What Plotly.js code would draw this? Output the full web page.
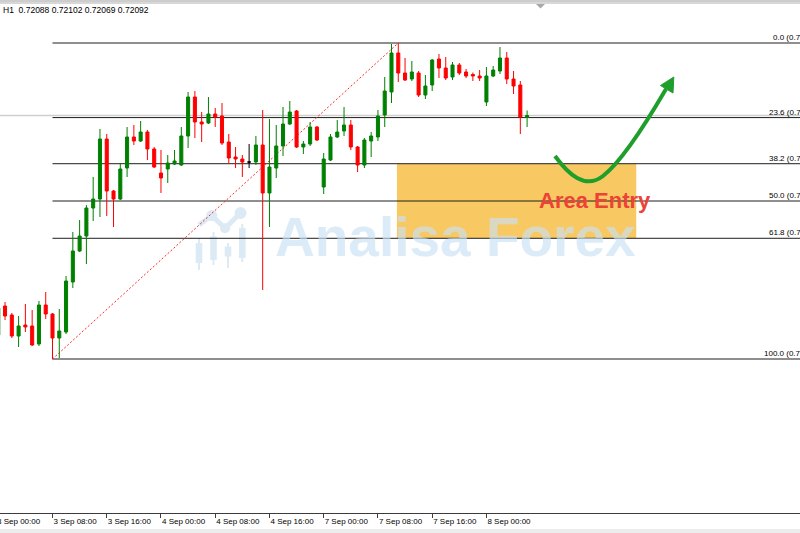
<!DOCTYPE html>
<html><head><meta charset="utf-8">
<script src="https://cdn.plot.ly/plotly-3.0.1.min.js"></script>
<style>html,body{margin:0;padding:0;background:#fff;}#chart{width:800px;height:533px;}</style>
</head><body><div id="chart"></div>
<script>
// ---- DATA (H1 candles) ----
const times = [
"3 Sep 00:00","3 Sep 01:00","3 Sep 02:00","3 Sep 03:00","3 Sep 04:00","3 Sep 05:00","3 Sep 06:00","3 Sep 07:00",
"3 Sep 08:00","3 Sep 09:00","3 Sep 10:00","3 Sep 11:00","3 Sep 12:00","3 Sep 13:00","3 Sep 14:00","3 Sep 15:00",
"3 Sep 16:00","3 Sep 17:00","3 Sep 18:00","3 Sep 19:00","3 Sep 20:00","3 Sep 21:00","3 Sep 22:00","3 Sep 23:00",
"4 Sep 00:00","4 Sep 01:00","4 Sep 02:00","4 Sep 03:00","4 Sep 04:00","4 Sep 05:00","4 Sep 06:00","4 Sep 07:00",
"4 Sep 08:00","4 Sep 09:00","4 Sep 10:00","4 Sep 11:00","4 Sep 12:00","4 Sep 13:00","4 Sep 14:00","4 Sep 15:00",
"4 Sep 16:00","4 Sep 17:00","4 Sep 18:00","4 Sep 19:00","4 Sep 20:00","4 Sep 21:00","4 Sep 22:00","4 Sep 23:00",
"7 Sep 00:00","7 Sep 01:00","7 Sep 02:00","7 Sep 03:00","7 Sep 04:00","7 Sep 05:00","7 Sep 06:00","7 Sep 07:00",
"7 Sep 08:00","7 Sep 09:00","7 Sep 10:00","7 Sep 11:00","7 Sep 12:00","7 Sep 13:00","7 Sep 14:00","7 Sep 15:00",
"7 Sep 16:00","7 Sep 17:00","7 Sep 18:00","7 Sep 19:00","7 Sep 20:00","7 Sep 21:00","7 Sep 22:00","7 Sep 23:00",
"8 Sep 00:00","8 Sep 01:00","8 Sep 02:00","8 Sep 03:00","8 Sep 04:00","8 Sep 05:00","8 Sep 06:00"];

const opens = [
0.71653,0.71711,0.71693,0.71651,0.71673,0.71671,0.71635,0.71713,
0.71695,0.71647,0.71659,0.71759,0.71821,0.71851,0.71907,0.71925,
0.72045,0.71941,0.71925,0.71987,0.72049,0.72041,0.72059,0.72025,
0.71977,0.71985,0.71995,0.71993,0.72051,0.72129,0.72079,0.72077,
0.72095,0.72091,0.72039,0.72009,0.72005,0.71999,0.71999,0.72033,
0.71937,0.71987,0.72031,0.72075,0.72101,0.72029,0.72035,0.72069,
0.71949,0.72003,0.72049,0.72061,0.72073,0.72029,0.71993,0.72041,
0.72049,0.72093,0.72139,0.72217,0.72177,0.72165,0.72177,0.72133,
0.72153,0.72205,0.72187,0.72169,0.72193,0.72179,0.72174,0.72171,
0.72119,0.72171,0.72181,0.72207,0.72165,0.72153,0.72088];

const highs = [
0.71723,0.71719,0.71697,0.71691,0.71715,0.71703,0.71721,0.71739,
0.71697,0.71705,0.71771,0.71859,0.71883,0.71913,0.71969,0.72065,
0.72055,0.71943,0.71997,0.72069,0.72073,0.72081,0.72063,0.72029,
0.72023,0.72013,0.72023,0.72069,0.72139,0.72141,0.72099,0.72129,
0.72107,0.72117,0.72055,0.72029,0.72013,0.72035,0.72051,0.72103,
0.72085,0.72073,0.72109,0.72121,0.72103,0.72041,0.72079,0.72071,
0.72017,0.72055,0.72083,0.72109,0.72083,0.72031,0.72047,0.72059,
0.72103,0.72169,0.72235,0.72237,0.72207,0.72201,0.72181,0.72173,
0.72205,0.72215,0.72209,0.72199,0.72197,0.72185,0.72178,0.72183,
0.72189,0.72191,0.72229,0.72219,0.72181,0.72161,0.72102];

const lows = [
0.71643,0.71683,0.71647,0.71629,0.71659,0.71631,0.71631,0.71685,
0.71605,0.71607,0.71655,0.71747,0.71819,0.71795,0.71881,0.71889,
0.71891,0.71869,0.71923,0.71969,0.72033,0.72039,0.72003,0.71987,
0.71937,0.71957,0.71993,0.71991,0.72027,0.72047,0.72039,0.72075,
0.72069,0.72033,0.71995,0.71987,0.71969,0.71987,0.71993,0.71743,
0.71869,0.71967,0.72011,0.72073,0.72027,0.72015,0.72031,0.72041,
0.71935,0.72001,0.72047,0.72051,0.72023,0.71979,0.71987,0.72009,
0.72041,0.72069,0.72117,0.72159,0.72161,0.72161,0.72129,0.72125,
0.72141,0.72167,0.72163,0.72163,0.72173,0.72167,0.72161,0.72161,
0.72111,0.72169,0.72175,0.72155,0.72135,0.72055,0.72069];

const closes = [
0.71707,0.71691,0.71651,0.71671,0.71669,0.71633,0.71713,0.71695,
0.71647,0.71661,0.71761,0.71821,0.71851,0.71907,0.71925,0.72045,
0.71941,0.71925,0.71985,0.72049,0.72041,0.72059,0.72025,0.71989,
0.71967,0.71997,0.72001,0.72051,0.72129,0.72079,0.72075,0.72095,
0.72089,0.72037,0.72007,0.72005,0.71999,0.71999,0.72033,0.71937,
0.71989,0.72031,0.72075,0.72099,0.72029,0.72035,0.72069,0.72043,
0.72005,0.72049,0.72059,0.72073,0.72029,0.71993,0.72043,0.72051,
0.72091,0.72141,0.72217,0.72177,0.72163,0.72179,0.72133,0.72151,
0.72203,0.72187,0.72167,0.72193,0.72177,0.72171,0.72171,0.72167,
0.72171,0.72183,0.72207,0.72165,0.72151,0.72089,0.72092];

const tickTimes = ["3 Sep 08:00","3 Sep 16:00","4 Sep 00:00","4 Sep 08:00","4 Sep 16:00",
                   "7 Sep 00:00","7 Sep 08:00","7 Sep 16:00","8 Sep 00:00"];
const fibLevels = [0.0, 23.6, 38.2, 50.0, 61.8, 100.0];
const periodLabel = "H1";
const zoneLabel = "Area Entry";
const watermark = "Analisa Forex";

// ---- LAYOUT HELPERS ----
const W = 800, H = 533, MT = 4, MB = 20, PH = H - MT - MB;
const px = x => x / W;
const py = y => 1 - (y - MT) / PH;
const FONT = "Liberation Sans, Arial, sans-serif";

const isDoji = opens.map((o, i) => o === closes[i]);
const pick = (arr, want) => arr.filter((_, i) => isDoji[i] === want);

const lo = Math.min(...lows), hi = Math.max(...highs);
const iLo = lows.indexOf(lo), iHi = highs.indexOf(hi);
const fibPrice = l => hi - (hi - lo) * l / 100;
const last = closes.length - 1;

const traces = [
  {type: 'candlestick', x: pick(times, false), open: pick(opens, false), high: pick(highs, false),
   low: pick(lows, false), close: pick(closes, false), whiskerwidth: 0, hoverinfo: 'skip', showlegend: false,
   increasing: {line: {color: '#008000', width: 1}, fillcolor: '#008000'},
   decreasing: {line: {color: '#ff0000', width: 1}, fillcolor: '#ff0000'}},
  {type: 'candlestick', x: pick(times, true), open: pick(opens, true), high: pick(highs, true),
   low: pick(lows, true), close: pick(closes, true), whiskerwidth: 0, hoverinfo: 'skip', showlegend: false,
   increasing: {line: {color: '#000000', width: 1}, fillcolor: '#000000'},
   decreasing: {line: {color: '#000000', width: 1}, fillcolor: '#000000'}}
];

const shapes = [];
// entry zone between 38.2 and 61.8
shapes.push({type: 'rect', xref: 'x', yref: 'y', x0: 58.8, x1: 94.1, y0: fibPrice(38.2), y1: fibPrice(61.8),
  fillcolor: '#F8C962', line: {width: 0}, layer: 'below'});
// bid line
shapes.push({type: 'line', xref: 'paper', yref: 'y', x0: 0, x1: 1, y0: closes[last], y1: closes[last],
  line: {color: '#cfcfcf', width: 1.5}, layer: 'below'});
// fibonacci levels
fibLevels.forEach(l => shapes.push({type: 'line', xref: 'x', yref: 'y', x0: iLo, x1: 300,
  y0: fibPrice(l), y1: fibPrice(l), line: {color: '#1e1e1e', width: 1}, layer: 'below'}));
// trend line of the fibo
shapes.push({type: 'line', xref: 'x', yref: 'y', x0: iLo, y0: lo, x1: iHi, y1: hi,
  line: {color: '#ff2a2a', width: 1, dash: '2px,2px'}, layer: 'below'});

// watermark icon
const wm = '#dceaf6';
[[211.7,215.5,5.5],[225,228.3,5],[240.5,213,6]].forEach(c => shapes.push({type: 'circle', xref: 'paper', yref: 'paper',
  x0: px(c[0]-c[2]), x1: px(c[0]+c[2]), y0: py(c[1]+c[2]), y1: py(c[1]-c[2]), fillcolor: wm, line: {width: 0}, layer: 'below'}));
[[199,225,211.7,215.5],[211.7,215.5,225,228.3],[225,228.3,240.5,213]].forEach(s => shapes.push({type: 'line', xref: 'paper', yref: 'paper',
  x0: px(s[0]), y0: py(s[1]), x1: px(s[2]), y1: py(s[3]), line: {color: wm, width: 5}, layer: 'below'}));
[[199,243,263,238,270],[213.5,236.5,260,232,265],[228,246.5,256.5,243,268],[242.3,228,258,224,262]].forEach(b => {
  shapes.push({type: 'line', xref: 'paper', yref: 'paper', x0: px(b[0]), x1: px(b[0]), y0: py(b[3]), y1: py(b[4]),
    line: {color: wm, width: 2}, layer: 'below'});
  shapes.push({type: 'rect', xref: 'paper', yref: 'paper', x0: px(b[0]-3.3), x1: px(b[0]+3.3), y0: py(b[2]), y1: py(b[1]),
    fillcolor: wm, line: {width: 0}, layer: 'below'});
});

// window frame bits
shapes.push({type: 'line', xref: 'paper', yref: 'paper', x0: 0, x1: 1, y0: py(1), y1: py(1), line: {color: '#9a9a9a', width: 1}});
shapes.push({type: 'line', xref: 'paper', yref: 'paper', x0: 0, x1: 1, y0: py(3), y1: py(3), line: {color: '#b0b0b0', width: 1}});
shapes.push({type: 'path', xref: 'paper', yref: 'paper',
  path: `M${px(536)},${py(4)} L${px(545)},${py(4)} L${px(540.5)},${py(8.5)} Z`, fillcolor: '#a8a8a8', line: {width: 0}});
shapes.push({type: 'rect', xref: 'paper', yref: 'paper', x0: 0, x1: 1, y0: py(533), y1: py(529),
  fillcolor: '#ececec', line: {width: 0}});

// green curved arrow
const P = (x, y) => `${px(x)},${py(y)}`;
shapes.push({type: 'path', xref: 'paper', yref: 'paper',
  path: `M${P(555,156)} C${P(568,174)} ${P(585,190)} ${P(603,176)} C${P(621,162)} ${P(645,125)} ${P(666,89)}`,
  line: {color: '#1f9e2c', width: 4}, layer: 'above'});
shapes.push({type: 'path', xref: 'paper', yref: 'paper',
  path: `M${P(660.5,85.5)} L${P(673.8,77)} L${P(673,93)} Z`, fillcolor: '#1f9e2c', line: {color: '#1f9e2c', width: 1}, layer: 'above'});

const annotations = [];
// header line
annotations.push({xref: 'paper', yref: 'paper', x: px(1), y: py(10.5), xanchor: 'left', yanchor: 'middle', showarrow: false,
  text: `${periodLabel}  ${opens[last].toFixed(5)} ${highs[last].toFixed(5)} ${lows[last].toFixed(5)} ${closes[last].toFixed(5)}`,
  font: {family: FONT, size: 8.5, color: '#000'}});
// fibo level labels
fibLevels.forEach(l => annotations.push({xref: 'paper', yref: 'y', x: px(823), y: fibPrice(l), xanchor: 'right', yanchor: 'bottom',
  showarrow: false, text: `${l.toFixed(1)} (${fibPrice(l).toFixed(5)})`, font: {family: FONT, size: 8, color: '#000'}, yshift: -1}));
// first, partly hidden, time label
annotations.push({xref: 'paper', yref: 'paper', x: px(-5), y: py(521), xanchor: 'left', yanchor: 'middle', showarrow: false,
  text: times[0], font: {family: FONT, size: 8, color: '#000'}});
// zone text
annotations.push({xref: 'paper', yref: 'paper', x: px(595), y: py(201), xanchor: 'center', yanchor: 'middle', showarrow: false,
  text: `<b>${zoneLabel}</b>`, font: {family: FONT, size: 22, color: '#EC4237'}});
// watermark
annotations.push({xref: 'paper', yref: 'paper', x: px(455.5), y: py(237), xanchor: 'center', yanchor: 'middle', showarrow: false,
  text: `<b>${watermark}</b>`, font: {family: FONT, size: 55, color: 'rgba(201,224,244,0.65)'}});

const layout = {
  width: W, height: H,
  margin: {l: 0, r: 0, t: MT, b: MB, pad: 0},
  paper_bgcolor: '#ffffff', plot_bgcolor: '#ffffff',
  showlegend: false, dragmode: false, boxgap: 0.36,
  xaxis: {type: 'category', categoryorder: 'array', categoryarray: times,
    range: [0.257, 118.25], rangeslider: {visible: false}, fixedrange: true,
    showgrid: false, zeroline: false, showline: true, linecolor: '#3c3c3c', linewidth: 1,
    ticks: 'outside', ticklen: 4, tickcolor: '#3c3c3c', tickwidth: 1,
    tickmode: 'array', tickvals: tickTimes, ticktext: tickTimes, ticklabelposition: 'outside right',
    tickfont: {family: FONT, size: 8, color: '#000'}, tickangle: 0},
  yaxis: {range: [0.71297, 0.72315], visible: false, showgrid: false, zeroline: false, fixedrange: true},
  shapes: shapes, annotations: annotations
};

Plotly.newPlot('chart', traces, layout, {displayModeBar: false, staticPlot: true});
</script>
</body></html>
